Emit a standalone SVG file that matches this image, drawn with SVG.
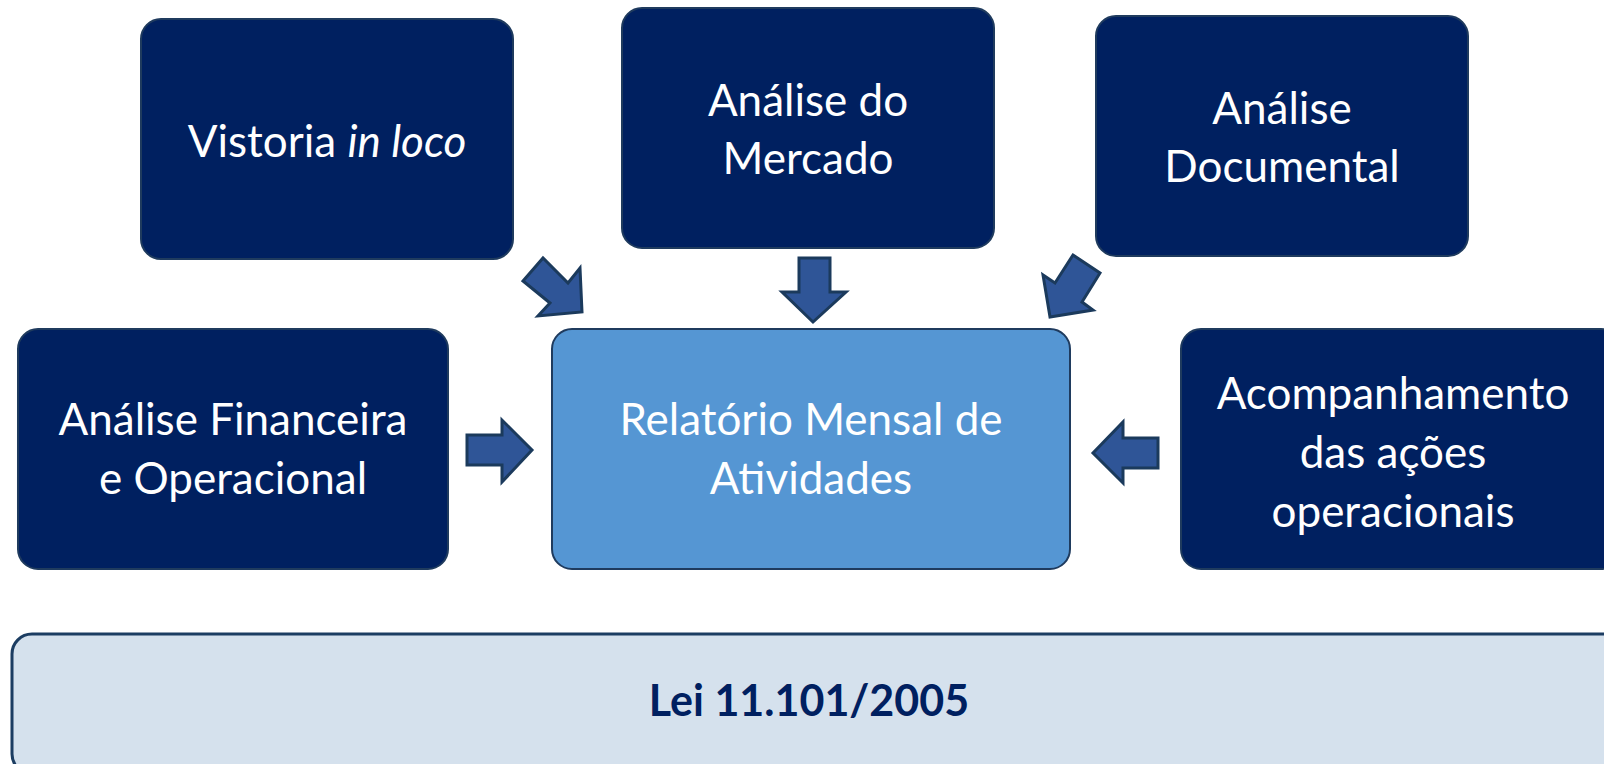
<svg xmlns="http://www.w3.org/2000/svg" width="1604" height="764" viewBox="0 0 1604 764">
<style>
.dk{fill:#002060;stroke:#1f3b5e;stroke-width:2}
.ct{fill:#5596d3;stroke:#1f3b5e;stroke-width:2}
.lei{fill:#d5e1ed;stroke:#1c3d62;stroke-width:3}
.t{font-family:Lato,"Open Sans",sans-serif;font-size:44px;fill:#ffffff;text-anchor:middle}
.b{font-family:Lato,"Open Sans",sans-serif;font-size:43px;font-weight:bold;fill:#002060;text-anchor:middle}
.ar{fill:#2f5597;stroke:#1b3a5c;stroke-width:3;stroke-linejoin:miter}
</style>
<rect width="1604" height="764" fill="#ffffff"/>
<g id="vistoria"><rect class="dk" x="141" y="19" width="372" height="240" rx="20"/><text class="t" x="327" y="157">Vistoria <tspan font-style="italic">in loco</tspan></text></g>
<g id="mercado"><rect class="dk" x="622" y="8" width="372" height="240" rx="20"/><text class="t" x="808" y="116">Análise do</text><text class="t" x="808" y="174">Mercado</text></g>
<g id="documental"><rect class="dk" x="1096" y="16" width="372" height="240" rx="20"/><text class="t" x="1282" y="124">Análise</text><text class="t" x="1282" y="182">Documental</text></g>
<g id="financeira"><rect class="dk" x="18" y="329" width="430" height="240" rx="20"/><text class="t" x="233" y="435">Análise Financeira</text><text class="t" x="233" y="494">e Operacional</text></g>
<g id="relatorio"><rect class="ct" x="552" y="329" width="518" height="240" rx="20"/><text class="t" x="811" y="435">Relatório Mensal de</text><text class="t" x="811" y="494">Atividades</text></g>
<g id="acompanhamento"><rect class="dk" x="1181" y="329" width="440" height="240" rx="20"/><text class="t" x="1393" y="409">Acompanhamento</text><text class="t" x="1393" y="468">das ações</text><text class="t" x="1393" y="527">operacionais</text></g>
<g id="lei"><rect class="lei" x="12" y="634" width="1610" height="140" rx="20"/><text class="b" x="809" y="716">Lei 11.101/2005</text></g>
<g id="connectors">
<polygon class="ar" points="523,281 543,258 568,283 580,268 582,312 538,316 550,303"/>
<polygon class="ar" points="799,258 830,258 830,292 846,292 813,322 782,292 799,292"/>
<polygon class="ar" points="1073,255 1100,273 1082,302 1093,310 1050,317 1043,275 1055,283"/>
<polygon class="ar" points="467,435 502,435 502,420 532,450 502,482 502,465 467,465"/>
<polygon class="ar" points="1158,438 1123,438 1123,422 1093,453 1123,483 1123,468 1158,468"/>
</g>
</svg>
